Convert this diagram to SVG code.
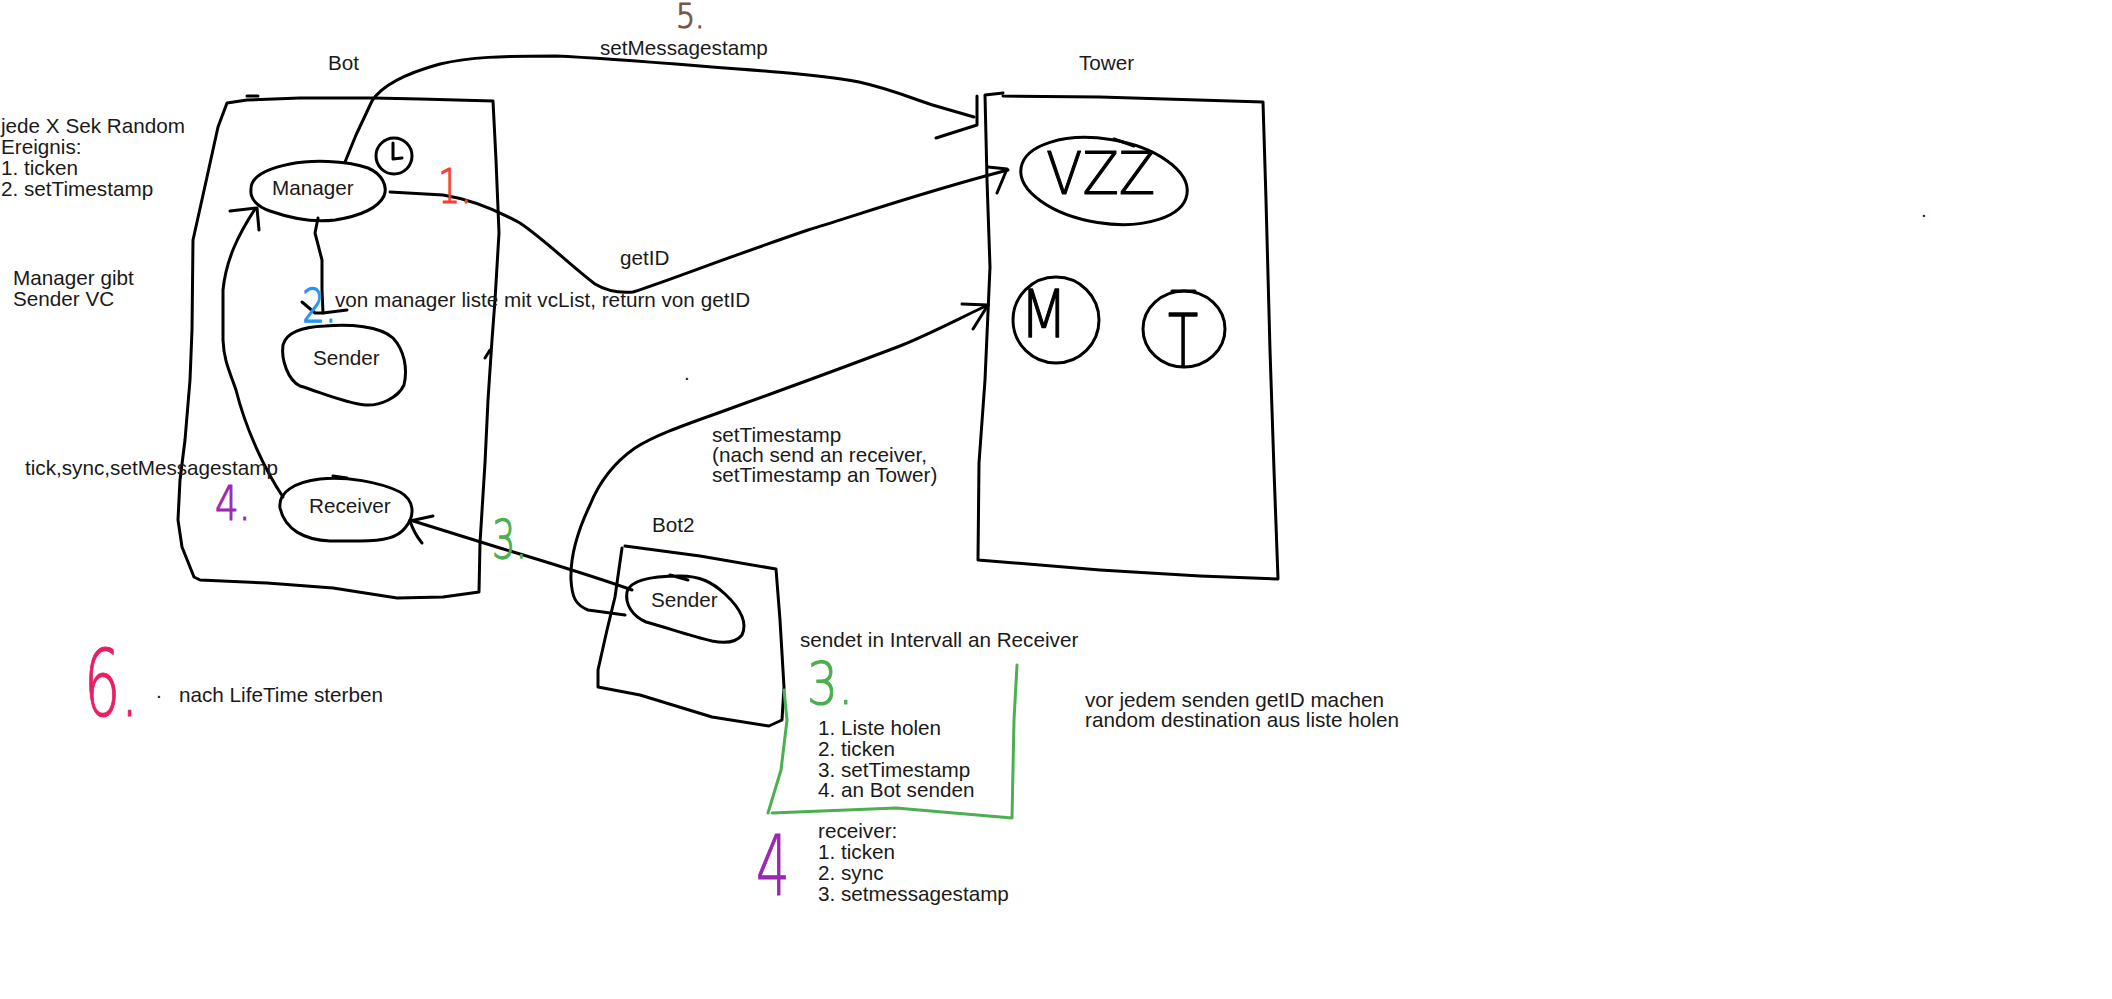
<svg xmlns="http://www.w3.org/2000/svg" width="2112" height="999" viewBox="0 0 2112 999">
<style>
.ink{fill:none;stroke:#000;stroke-width:3;stroke-linecap:round;stroke-linejoin:round}
.t{font-family:"Liberation Sans",Arial,sans-serif;font-size:20.7px;fill:#1a1a1a}
.h{font-family:"DejaVu Sans","Liberation Sans",sans-serif;font-weight:200;fill:currentColor;stroke:currentColor;stroke-width:1.1;stroke-linejoin:round}
</style>
<rect width="2112" height="999" fill="#fff"/>

<g id="bot">
<path class="ink" d="M247 96 L258 96 M227 103 L247 100 L300 98 L373 98 L420 99 L493 101 L496 160 L499 233 L495 300 L492 340 L488 400 L485 463 L480 543 L479 592 L443 597 L397 598 L333 588 L267 583 L200 580 L194 577 L182 547 L178 520 L180 480 L185 440 L190 380 L192 330 L193 240 L207 177 L218 127 L227 103 M485 358 L490 350"/>
<text class="t" x="328" y="70">Bot</text>
</g>

<g id="manager">
<path class="ink" d="M251 190 C250 175 270 168 290 164 C310 160 345 160 368 168 C382 174 388 186 384 196 C378 208 360 216 335 220 C312 223 290 218 270 211 C256 206 250 198 251 190 Z"/>
<text class="t" x="272" y="195">Manager</text>
</g>

<g id="clock">
<circle class="ink" cx="394" cy="156" r="18"/>
<path class="ink" d="M393 143 L393 159 L402 158"/>
</g>

<g id="bot-sender">
<path class="ink" d="M283 345 C286 333 300 327 325 326 C350 324 380 326 393 338 C404 350 408 368 404 385 C398 398 380 406 365 405 C345 403 320 392 300 386 C288 380 281 360 283 345 Z"/>
<text class="t" x="313" y="365">Sender</text>
</g>

<g id="receiver">
<path class="ink" d="M280 508 C278 492 295 482 320 479 C345 476 380 482 400 492 C414 500 416 515 405 528 C398 537 385 541 360 541 L330 541 C305 540 285 530 280 508 Z M333 476 L347 478"/>
<text class="t" x="309" y="513">Receiver</text>
</g>

<g id="tower">
<path class="ink" d="M985 95 L1003 93 M1003 96 L1100 97 L1263 102 L1266 200 L1270 350 L1274 470 L1278 579 L1200 576 L1100 570 L978 560 L979 463 L985 380 L990 267 L987 180 L985 95"/>
<text class="t" x="1079" y="70">Tower</text>
</g>

<g id="vzz">
<ellipse class="ink" cx="1104" cy="181" rx="84" ry="42" transform="rotate(9 1104 181)"/>
<path class="ink" d="M1114 139 L1134 146"/>
<text class="h" color="#000" font-size="56" transform="translate(1046 194) scale(0.95 1.05)">VZZ</text>
</g>

<g id="m">
<circle class="ink" cx="1056" cy="320" r="43"/>
<text class="h" color="#000" font-size="58" transform="translate(1020 337) scale(0.95 1.15)">M</text>
</g>

<g id="t">
<ellipse class="ink" cx="1184" cy="329" rx="41" ry="38"/>
<path class="ink" d="M1172 291 L1195 291"/>
<text class="h" color="#000" font-size="52" transform="translate(1168 366) scale(0.95 1.4)">T</text>
</g>

<g id="bot2">
<path class="ink" d="M625 546 L700 556 L776 569 L780 620 L784 687 L782 720 L769 726 L712 717 L640 695 L598 687 L598 670 L607 630 L615 597 L622 548"/>
<text class="t" x="652" y="532">Bot2</text>
</g>

<g id="bot2-sender">
<path class="ink" d="M627 592 C630 580 650 576 680 576 C700 576 712 582 725 594 C740 608 748 622 742 635 C735 644 722 643 712 641 C690 636 665 627 646 622 C632 616 625 604 627 592 Z M670 575 L688 580"/>
<text class="t" x="651" y="607">Sender</text>
</g>

<g id="connectors">
<path class="ink" d="M345 162 L356 135 L372 101 C380 88 400 75 440 64 C470 57 500 56 556 56 C600 58 650 62 700 66 C780 72 830 76 859 82 C895 90 915 100 936 106 L974 117"/>
<path class="ink" d="M977 96 L977 125 L936 138"/>
<path class="ink" d="M390 192 L443 195 C475 200 500 212 520 223 C545 240 570 265 595 284 C608 292 620 293 633 292 C670 280 720 260 808 230 C860 214 930 190 1008 170"/>
<path class="ink" d="M988 167 L1007 169 L997 193"/>
<path class="ink" d="M318 218 L315 233 L322 260 L322 290 L323 313"/>
<path class="ink" d="M302 302 L315 313 L323 313 L347 310"/>
<path class="ink" d="M283 497 C265 470 246 430 236 390 C230 372 224 362 223 340 L223 290 C226 260 238 235 255 209"/>
<path class="ink" d="M230 211 L257 208 L259 230"/>
<path class="ink" d="M632 590 C590 575 540 560 500 548 L410 520"/>
<path class="ink" d="M433 516 L410 521 C413 530 417 537 422 543"/>
<path class="ink" d="M625 615 L588 610 C576 605 572 598 571 580 C570 555 578 530 590 505 C600 480 615 462 635 448 C660 432 700 420 740 405 C790 387 850 365 900 346 C930 334 960 318 988 305"/>
<path class="ink" d="M962 304 L988 305 L973 329"/>
</g>

<g id="labels">
<text class="t" x="600" y="55">setMessagestamp</text>
<text class="t" x="620" y="265">getID</text>
<text class="t" x="335" y="307">von manager liste mit vcList, return von getID</text>
<text class="t" x="25" y="475">tick,sync,setMessagestamp</text>
<text class="t"><tspan x="1" y="133">jede X Sek Random</tspan><tspan x="1" y="154">Ereignis:</tspan><tspan x="1" y="175">1. ticken</tspan><tspan x="1" y="196">2. setTimestamp</tspan></text>
<text class="t"><tspan x="13" y="285">Manager gibt</tspan><tspan x="13" y="306">Sender VC</tspan></text>
<text class="t"><tspan x="712" y="442">setTimestamp</tspan><tspan x="712" y="462">(nach send an receiver,</tspan><tspan x="712" y="482">setTimestamp an Tower)</tspan></text>
<text class="t" x="800" y="647">sendet in Intervall an Receiver</text>
<text class="t"><tspan x="818" y="735">1. Liste holen</tspan><tspan x="818" y="756">2. ticken</tspan><tspan x="818" y="777">3. setTimestamp</tspan><tspan x="818" y="797">4. an Bot senden</tspan></text>
<text class="t"><tspan x="1085" y="707">vor jedem senden getID machen</tspan><tspan x="1085" y="727">random destination aus liste holen</tspan></text>
<text class="t"><tspan x="818" y="838">receiver:</tspan><tspan x="818" y="859">1. ticken</tspan><tspan x="818" y="880">2. sync</tspan><tspan x="818" y="901">3. setmessagestamp</tspan></text>
<text class="t" x="179" y="702">nach LifeTime sterben</text>
<text class="t" x="156" y="698">.</text>
<text class="t" x="684" y="380">.</text>
<text class="t" x="1921" y="217">.</text>
</g>

<g id="green-box">
<path d="M784 690 L787 720 L781 770 L768 813 M772 813 L896 808 L954 813 L1012 818 L1014 720 L1017 665" fill="none" stroke="#4caf50" stroke-width="3" stroke-linecap="round" stroke-linejoin="round"/>
</g>

<g id="step-numbers">
<text class="h" color="#f44336" font-size="44" transform="translate(438 203) scale(0.8 1.1)">1.</text>
<text class="h" color="#2196f3" font-size="40" transform="translate(302 322) scale(0.9 1.15)">2.</text>
<text class="h" color="#4caf50" font-size="46" transform="translate(492 558) scale(0.8 1.15)">3.</text>
<text class="h" color="#4caf50" font-size="54" transform="translate(807 704) scale(0.9 1.08)">3.</text>
<text class="h" color="#9c27b0" font-size="44" transform="translate(215 520) scale(0.85 1.1)">4.</text>
<text class="h" color="#9c27b0" font-size="76" transform="translate(756 895) scale(0.7 1.1)">4</text>
<text class="h" color="#795548" font-size="30" transform="translate(676 28) scale(1 1.1)">5.</text>
<text class="h" color="#e91e63" font-size="88" transform="translate(84 716) scale(0.65 1.05)">6.</text>
</g>
</svg>
